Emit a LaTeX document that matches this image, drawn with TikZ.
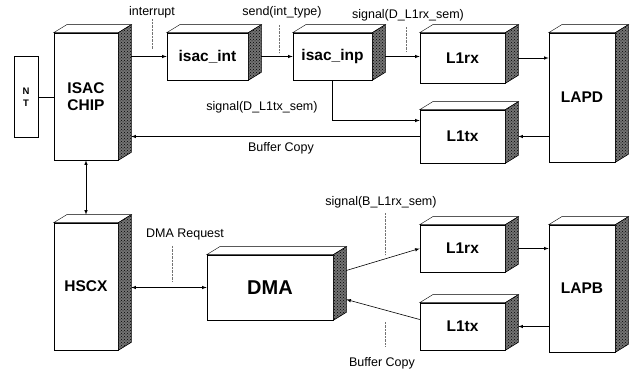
\documentclass[tikz,border=0pt]{standalone}
\usepackage{fontspec}
\setmainfont{Liberation Sans}
\usepackage{tikz}
\usetikzlibrary{positioning, arrows, calc, patterns}
% top face and shaded side of a box node
\newcommand{\cube}[1]{%
\draw[fill=white] (#1.north west) -- ++(13,-8) -- ($(#1.north east)+(13,-8)$) -- (#1.north east) -- cycle;
\draw[side] (#1.north east) -- ++(13,-8) -- ($(#1.south east)+(13,-8)$) -- (#1.south east) -- cycle;}

\tikzset{
  blk/.style={draw, semithick, fill=white, inner sep=0pt, font=\fontsize{15.5}{17}\selectfont\bfseries},
  side/.style={draw, semithick, preaction={fill=black!55}, pattern=crosshatch dots, pattern color=black},
  lbl/.style={inner sep=1pt, font=\fontsize{12.5}{14}\selectfont},
  tick/.style={densely dotted, black!55},
  link/.style={-latex, semithick}
}

\begin{document}
\begin{tikzpicture}[x=1pt, y=-1pt]
\useasboundingbox (0,0) rectangle (641,374);

% D channel side
\node[draw, semithick, fill=white, minimum width=24pt, minimum height=81pt, align=center, inner sep=0pt,
  font=\fontsize{9.5}{12}\selectfont\bfseries] (nt) at (26,97) {N\\T};
\node[blk, minimum width=64pt, minimum height=127pt, align=center] (isac) at (86,96.5) {ISAC\\CHIP};
\node[blk, minimum width=81pt, minimum height=47pt] (isacint) at (207.5,56.5) {isac\_int};
\node[blk, minimum width=79pt, minimum height=47pt] (isacinp) at (332.5,56.5) {isac\_inp};
\node[blk, minimum width=85pt, minimum height=50pt] (l1rxd) at (462.5,58) {L1rx};
\node[blk, minimum width=85pt, minimum height=53pt] (l1txd) at (462.5,136.5) {L1tx};
\node[blk, minimum width=66pt, minimum height=129pt] (lapd) at (582,97.5) {LAPD};
\cube{isac} \cube{isacint} \cube{isacinp} \cube{l1rxd} \cube{l1txd} \cube{lapd}

% B channel side
\node[blk, minimum width=64pt, minimum height=127pt] (hscx) at (86,286.5) {HSCX};
\node[blk, minimum width=126pt, minimum height=65pt, font=\fontsize{20}{22}\selectfont\bfseries] (dma) at (270,287.5) {DMA};
\node[blk, minimum width=85pt, minimum height=47pt] (l1rxb) at (462.5,248.5) {L1rx};
\node[blk, minimum width=85pt, minimum height=47pt] (l1txb) at (462.5,326.5) {L1tx};
\node[blk, minimum width=66pt, minimum height=127pt] (lapb) at (582,288.5) {LAPB};
\cube{hscx} \cube{dma} \cube{l1rxb} \cube{l1txb} \cube{lapb}

% labels
\node[lbl] (lint) at (152,12) {interrupt};
\node[lbl] (lsend) at (282,12) {send(int\_type)};
\node[lbl] (lsigrx) at (408,15) {signal(D\_L1rx\_sem)};
\node[lbl] (lsigtx) at (262,107) {signal(D\_L1tx\_sem)};
\node[lbl] (lbufd) at (281,148) {Buffer Copy};
\node[lbl] (lreq) at (185,234) {DMA Request};
\node[lbl] (lsigb) at (381,202) {signal(B\_L1rx\_sem)};
\node[lbl] (lbufb) at (382,363) {Buffer Copy};

% connections
\draw[semithick] (nt.east) -- (isac.west |- nt.east);
\draw[link] (isac.east |- isacint.west) ++(13,0) -- (isacint.west);
\draw[link] (isacint.east) ++(13,0) -- (isacinp.west);
\draw[link] (isacinp.east) ++(13,0) -- (l1rxd.west |- isacinp.east);
\draw[link] (l1rxd.east) ++(13,0) -- (lapd.west |- l1rxd.east);
\draw[link] (isacinp.south) |- ([yshift=16pt]l1txd.west);
\draw[link] (lapd.west |- l1txd.east) -- ([xshift=13pt]l1txd.east);
\draw[link] (l1txd.west) -- ([xshift=13pt]isac.east |- l1txd.west);
\draw[link, latex-latex] (isac.south) -- ([yshift=8pt]hscx.north);
\draw[link, latex-latex] (hscx.east |- dma.west) ++(13,0) -- (dma.west);
\draw[link] ([shift={(13,-17)}]dma.east) -- (l1rxb.west);
\draw[link] ([yshift=7pt]l1txb.west) -- ([shift={(13,12)}]dma.east);
\draw[link] (l1rxb.east) ++(13,0) -- (lapb.west |- l1rxb.east);
\draw[link] (lapb.west |- l1txb.east) -- ([xshift=13pt]l1txb.east);

% dotted leaders
\draw[tick] (lint.south) -- ++(0,30);
\draw[tick] (lsend.south) ++(-3,6) -- ++(0,28);
\draw[tick] (lsigrx.south) ++(-2,5) -- ++(0,25);
\draw[tick] (lreq.south) ++(-13,5) -- ++(0,36);
\draw[tick] (lsigb.south) ++(4,4) -- ++(0,42);
\draw[tick] (lbufb.north) ++(3,-10) -- ++(0,-24);
\end{tikzpicture}
\end{document}
